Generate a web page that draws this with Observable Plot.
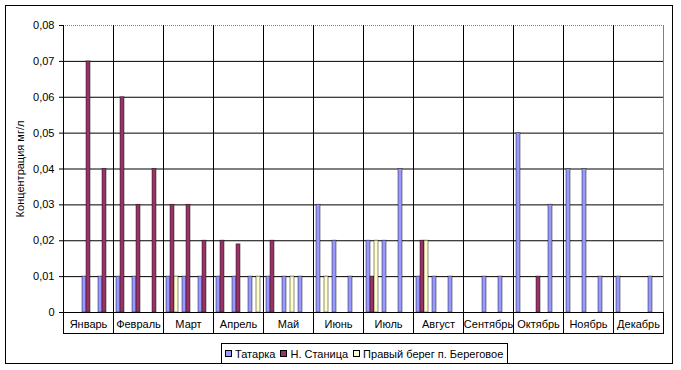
<!DOCTYPE html>
<html>
<head>
<meta charset="utf-8">
<script src="https://cdn.jsdelivr.net/npm/d3@7"></script>
<script src="https://cdn.jsdelivr.net/npm/@observablehq/plot@0.6"></script>
<style>
  html, body { margin: 0; padding: 0; background: #fff; }
  #wrap { position: relative; width: 681px; height: 370px; font-family: "Liberation Sans", Arial, sans-serif; }
  #outer { position: absolute; left: 5px; top: 5px; width: 668px; height: 359px; box-sizing: border-box; border: 1px solid #000; }
  #chart { position: absolute; left: 0; top: 0; }
  #legend { position: absolute; left: 221px; top: 343px; height: 21px; box-sizing: border-box; border: 1px solid #000; background: #fff;
            display: flex; align-items: center; padding: 0 4px 0 3px; font-size: 11px; color: #000; white-space: nowrap; }
  #legend .item { display: flex; align-items: center; margin-right: 5px; }
  #legend .item:last-child { margin-right: 0; }
  #legend .sw { width: 5px; height: 5px; border: 1px solid #000; margin-right: 3px; }
</style>
</head>
<body>
<div id="wrap">
  <div id="outer"></div>
  <div id="chart"></div>
  <div id="legend"></div>
</div>
<script>
// Categories
const months = ["Январь","Февраль","Март","Апрель","Май","Июнь","Июль","Август","Сентябрь","Октябрь","Ноябрь","Декабрь"];
const decades = ["I","II","III"];
const seriesNames = ["Татарка","Н. Станица","Правый берег п. Береговое"];
const seriesColors = ["#9999FF","#993366","#FFFFCC"];

// Values per decade (3 per month), null = no bar
const tatarka = [
  null, 0.01, 0.01,   // Январь
  0.01, 0.01, null,   // Февраль
  0.01, 0.01, 0.01,   // Март
  0.01, 0.01, 0.01,   // Апрель
  0.01, 0.01, 0.01,   // Май
  0.03, 0.02, 0.01,   // Июнь
  0.02, 0.02, 0.04,   // Июль
  0.01, 0.01, 0.01,   // Август
  null, 0.01, 0.01,   // Сентябрь
  0.05, null, 0.03,   // Октябрь
  0.04, 0.04, 0.01,   // Ноябрь
  0.01, null, 0.01    // Декабрь
];
const nStanitsa = [
  null, 0.07, 0.04,
  0.06, 0.03, 0.04,
  0.03, 0.03, 0.02,
  0.02, 0.019, null,
  0.02, null, null,
  null, null, null,
  0.01, null, null,
  0.02, null, null,
  null, null, null,
  null, 0.01, null,
  null, null, null,
  null, null, null
];
const pravyiBereg = [
  null, null, null,
  null, null, null,
  0.01, null, null,
  null, null, 0.01,
  null, 0.01, null,
  0.01, null, null,
  0.02, null, null,
  0.02, null, null,
  null, null, null,
  null, null, null,
  null, null, null,
  null, null, null
];
const yTicks = [0, 0.01, 0.02, 0.03, 0.04, 0.05, 0.06, 0.07, 0.08];

// Build table
const rows = [];
[tatarka, nStanitsa, pravyiBereg].forEach((arr, si) => {
  arr.forEach((v, i) => {
    if (v != null) rows.push({
      month: months[Math.floor(i / 3)],
      slot: decades[i % 3] + "|" + si,
      series: seriesNames[si],
      value: v
    });
  });
});
// slots within a month: 3 series per decade, a spacer between decades
const slots = decades.flatMap((d, i) => seriesNames.map((s, si) => d + "|" + si).concat(i < decades.length - 1 ? [d + "|gap"] : []));

const fmt = d => d === 0 ? "0" : d.toFixed(2).replace(".", ",");

const chart = Plot.plot({
  width: 681,
  height: 340,
  marginLeft: 61,
  marginRight: 16,
  marginTop: 25,
  marginBottom: 28,
  style: { fontFamily: "'Liberation Sans', Arial, sans-serif", fontSize: "11px", color: "#000", background: "transparent", overflow: "visible" },
  fx: { domain: months, padding: 0, label: null, axis: "bottom", tickSize: 0, tickPadding: 8 },
  x: { domain: slots, paddingInner: 0, paddingOuter: 0.5, axis: null },
  y: { domain: [0, 0.08], ticks: yTicks, tickFormat: fmt, tickSize: 4, tickPadding: 5,
       label: "Концентрация мг/л", labelAnchor: "center", labelOffset: 47, labelArrow: "none" },
  color: { domain: seriesNames, range: seriesColors },
  marks: [
    Plot.ruleY(yTicks.filter(t => t > 0 && t < 0.08), { stroke: "#000", strokeWidth: 1 }),
    Plot.ruleY([0.08], { stroke: "#808080", strokeDasharray: "1,1" }),
    Plot.frame({ anchor: "right", stroke: "#808080", strokeDasharray: "1,1", insetBottom: -21 }),
    Plot.barY(rows, { fx: "month", x: "slot", y: "value", fill: "series", stroke: "#000", strokeWidth: 1, strokeOpacity: 0.45 }),
    Plot.frame({ anchor: "left", stroke: "#000", insetBottom: -21 }),
    Plot.frame({ anchor: "right", stroke: "#000", insetTop: 287, insetBottom: -21 }),
    Plot.frame({ anchor: "bottom", stroke: "#000", insetBottom: -21 }),
    Plot.ruleY([0], { stroke: "#000" })
  ]
});
document.getElementById("chart").appendChild(chart);

// Legend
const legend = document.getElementById("legend");
seriesNames.forEach((name, i) => {
  const item = document.createElement("div");
  item.className = "item";
  const sw = document.createElement("div");
  sw.className = "sw";
  sw.style.background = seriesColors[i];
  const label = document.createElement("span");
  label.textContent = name;
  item.appendChild(sw);
  item.appendChild(label);
  legend.appendChild(item);
});
</script>
</body>
</html>
